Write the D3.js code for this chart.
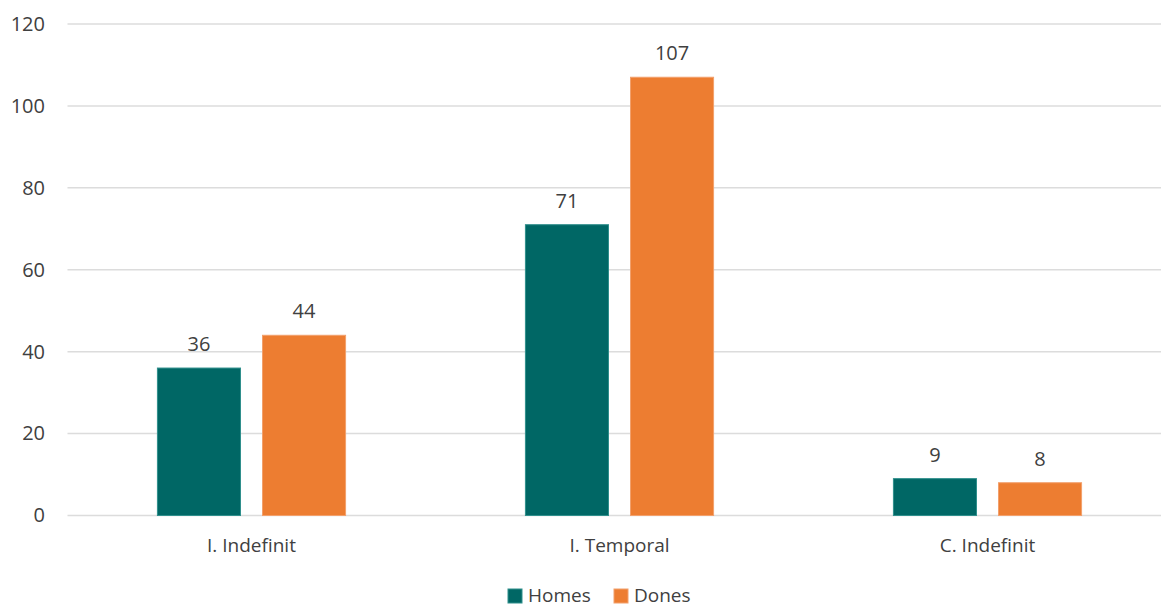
<!DOCTYPE html>
<html>
<head>
<meta charset="utf-8">
<script src="https://cdn.jsdelivr.net/npm/d3@7"></script>
<style>
  html, body { margin: 0; padding: 0; background: #fff; }
  svg { display: block; font-family: "Open Sans", "Noto Sans", sans-serif; }
</style>
</head>
<body>
<svg id="chart" width="1161" height="608"></svg>
<script>
const categories = ["I. Indefinit", "I. Temporal", "C. Indefinit"];
const seriesNames = ["Homes", "Dones"];
const homes = [36, 71, 9];
const dones = [44, 107, 8];
const yTicks = [0, 20, 40, 60, 80, 100, 120];
const colors = { Homes: "#006765", Dones: "#ED7D31" };
const strokes = { Homes: "#2f8f8c", Dones: "#f2a06c" };

const seriesValues = { Homes: homes, Dones: dones };
const svg = d3.select("#chart");

const margin = { left: 67.5, right: 1171.5, top: 24, bottom: 515.5 };

const x0 = d3.scaleBand().domain(categories).range([margin.left, margin.right])
  .paddingInner(0.486).paddingOuter(0.243);
const x1 = d3.scaleBand().domain(seriesNames).range([0, x0.bandwidth()])
  .paddingInner(0.2).paddingOuter(0);
const y = d3.scaleLinear().domain([0, 120]).range([margin.bottom, margin.top]);

const textColor = "#404040";

// gridlines
svg.append("g").selectAll("line").data(yTicks).join("line")
  .attr("x1", margin.left).attr("x2", 1161)
  .attr("y1", d => y(d)).attr("y2", d => y(d))
  .attr("stroke", "#dcdcdc").attr("stroke-width", 1.5);

// y axis labels
const yAxis = d3.axisLeft(y).tickValues(yTicks).tickSize(0).tickPadding(0);
const yg = svg.append("g").attr("transform", `translate(45,0)`).call(yAxis);
yg.select(".domain").remove();
yg.selectAll("text").attr("fill", textColor).style("font-size", "20px")
  .style("font-family", "'Open Sans', 'Noto Sans', sans-serif");

// bars
const groups = svg.append("g").selectAll("g").data(categories).join("g")
  .attr("transform", d => `translate(${x0(d)},0)`);

groups.selectAll("rect").data((c, i) => seriesNames.map(s => ({ s, v: seriesValues[s][i] })))
  .join("rect")
  .attr("x", d => x1(d.s) + 0.5)
  .attr("width", x1.bandwidth() - 1)
  .attr("y", d => y(d.v))
  .attr("height", d => y(0) - y(d.v))
  .attr("fill", d => colors[d.s])
  .attr("stroke", d => strokes[d.s])
  .attr("stroke-width", 1);

groups.selectAll("text.val").data((c, i) => seriesNames.map(s => ({ s, v: seriesValues[s][i] })))
  .join("text").attr("class", "val")
  .attr("x", d => x1(d.s) + x1.bandwidth() / 2)
  .attr("y", d => y(d.v) - 17)
  .attr("text-anchor", "middle")
  .attr("fill", textColor)
  .style("font-size", "20px")
  .text(d => d.v);

// x axis labels
const xAxis = d3.axisBottom(x0).tickSize(0).tickPadding(0);
const xg = svg.append("g").attr("transform", `translate(0,${margin.bottom})`).call(xAxis);
xg.select(".domain").remove();
xg.selectAll("text").attr("dy", null).attr("y", 36)
  .attr("fill", textColor).style("font-size", "19px")
  .style("font-family", "'Open Sans', 'Noto Sans', sans-serif");

// legend
const legend = svg.append("g");
const legendItems = [
  { s: "Homes", x: 508 },
  { s: "Dones", x: 614 }
];
legendItems.forEach(it => {
  legend.append("rect").attr("x", it.x).attr("y", 589).attr("width", 14).attr("height", 14)
    .attr("fill", colors[it.s]).attr("stroke", strokes[it.s]).attr("stroke-width", 1);
  legend.append("text").attr("x", it.x + 20).attr("y", 602)
    .attr("fill", textColor).style("font-size", "19px").text(it.s);
});
</script>
</body>
</html>
